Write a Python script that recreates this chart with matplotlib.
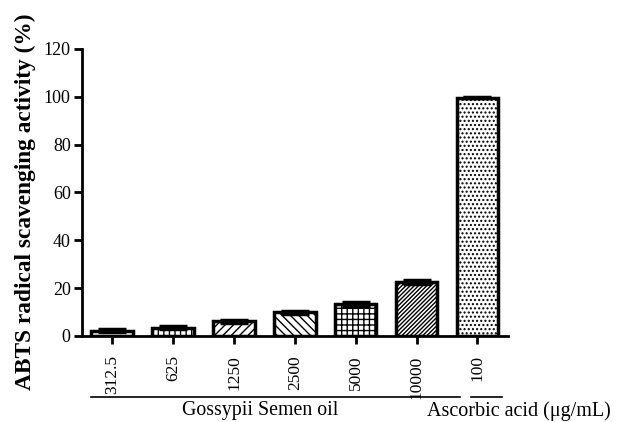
import numpy as np
import matplotlib.pyplot as plt

plt.rcParams['font.family'] = ['Liberation Serif', 'DejaVu Serif']
plt.rcParams['hatch.linewidth'] = 1.0

# data
labels = ['312.5', '625', '1250', '2500', '5000', '10000', '100']
values = [2.2, 3.5, 6.2, 9.8, 13.4, 22.5, 99.5]
errors = [0.6, 0.6, 0.6, 0.6, 0.7, 0.9, 0.2]
hatches = ['', '|||', '////', '\\\\\\\\', '+++', '////////', '....']

x = np.arange(len(labels))

fig = plt.figure(figsize=(6.24, 4.22), dpi=100)
ax = fig.add_axes([0.131, 0.204, 0.683, 0.680])

for i in range(len(labels)):
    ax.bar(x[i], values[i], width=0.68, color='white', edgecolor='black',
           linewidth=2.5, hatch=hatches[i], zorder=2)
ax.errorbar(x, values, yerr=errors, fmt='none', ecolor='black',
            elinewidth=2.5, capsize=10, capthick=2.5, zorder=3)

ax.set_xlim(-0.5, 6.5)
ax.set_ylim(0, 120)
ax.set_yticks(range(0, 121, 20))
ax.set_xticks(x)
ax.set_xticklabels(labels, rotation=90, fontsize=12.5)
ax.tick_params(axis='y', labelsize=13, width=2, length=6, pad=2)
ax.tick_params(axis='x', width=2, length=6, pad=8)
ax.spines['top'].set_visible(False)
ax.spines['right'].set_visible(False)
ax.spines['left'].set_linewidth(2)
ax.spines['bottom'].set_linewidth(2)

ax.set_ylabel('ABTS radical scavenging activity (%)', fontsize=16.8,
              fontweight='bold')
ax.yaxis.set_label_coords(-0.108, 0.467)

# group brackets under the tick labels
fig.add_artist(plt.Line2D([91/624, 460/624], [1 - 397/422, 1 - 397/422],
                          color='black', linewidth=1.2))
fig.add_artist(plt.Line2D([471/624, 502/624], [1 - 397/422, 1 - 397/422],
                          color='black', linewidth=1.2))
fig.text(260/624, 1 - 411/422, 'Gossypii Semen oil', ha='center', va='center',
         fontsize=14.3)
fig.text(519/624, 1 - 411/422, 'Ascorbic acid (\u03bcg/mL)', ha='center',
         va='center', fontsize=14.5)

fig.savefig('out.png', dpi=100)
